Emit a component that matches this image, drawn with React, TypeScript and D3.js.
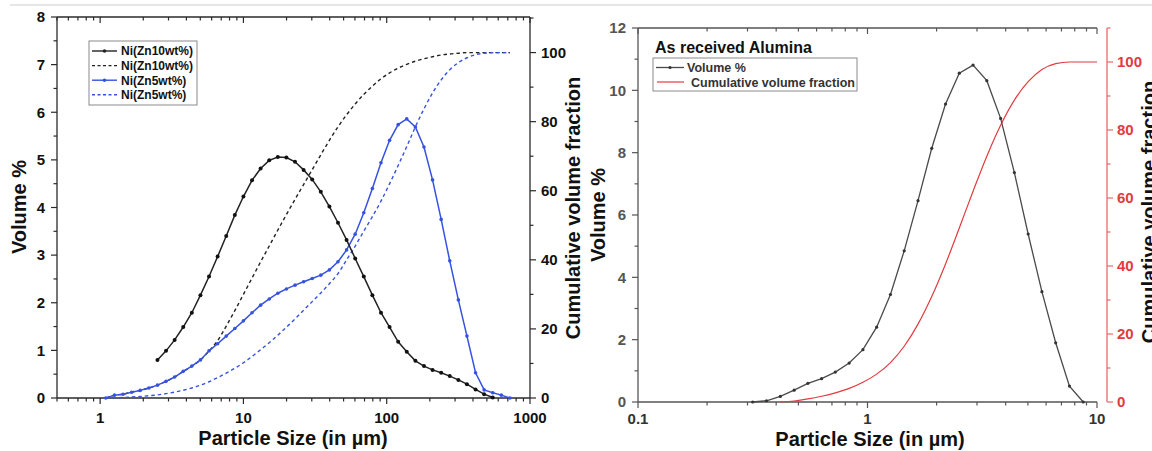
import React from "react";
import * as d3 from "d3";

// ---------- Left chart data (particle size bins in µm) ----------
const sizeBins = [
  1.096, 1.259, 1.445, 1.66, 1.905, 2.188, 2.512, 2.884, 3.311, 3.802, 4.365, 5.012,
  5.754, 6.607, 7.586, 8.71, 10.0, 11.48, 13.18, 15.14, 17.38, 19.95, 22.91, 26.3,
  30.2, 34.67, 39.81, 45.71, 52.48, 60.26, 69.18, 79.43, 91.2, 104.7, 120.2, 138.0,
  158.5, 182.0, 208.9, 239.9, 275.4, 316.2, 363.1, 416.9, 478.6, 549.5, 631.0, 724.4,
];
const ni10Volume: (number | null)[] = [
  null, null, null, null, null, null, 0.8, 0.99, 1.22, 1.49, 1.79, 2.16,
  2.55, 2.97, 3.4, 3.84, 4.23, 4.57, 4.82, 4.99, 5.06, 5.05, 4.96, 4.79,
  4.59, 4.33, 4.02, 3.68, 3.32, 2.93, 2.55, 2.16, 1.79, 1.49, 1.18, 0.97,
  0.78, 0.67, 0.59, 0.53, 0.46, 0.38, 0.29, 0.18, 0.08, 0.01, null, null,
];
const ni10Cumulative = [
  0, 0.8, 1.1, 1.7, 2.2, 2.9, 3.7, 4.8, 6.1, 7.7, 9.2, 11.0,
  13.6, 16.6, 20.8, 25.3, 30.0, 34.7, 39.4, 44.0, 48.6, 53.1, 57.5, 61.8,
  66.1, 70.4, 74.6, 78.5, 82.0, 85.1, 87.9, 90.3, 92.4, 94.1, 95.5, 96.6,
  97.5, 98.2, 98.8, 99.3, 99.6, 99.8, 100, 100, 100, 100, 100, 100,
];
const ni5Volume = [
  0.0, 0.06, 0.08, 0.12, 0.16, 0.21, 0.27, 0.35, 0.44, 0.56, 0.67, 0.8,
  0.99, 1.14, 1.3, 1.46, 1.62, 1.79, 1.95, 2.08, 2.2, 2.29, 2.37, 2.44,
  2.51, 2.58, 2.69, 2.86, 3.11, 3.44, 3.89, 4.4, 4.94, 5.41, 5.74, 5.86,
  5.69, 5.27, 4.58, 3.75, 2.88, 2.06, 1.3, 0.53, 0.17, 0.11, 0.06, 0.0,
];
const ni5Cumulative = [
  0, 0.1, 0.15, 0.3, 0.45, 0.65, 0.9, 1.25, 1.7, 2.25, 2.9, 3.7,
  4.7, 5.9, 7.2, 8.6, 10.2, 12.0, 14.0, 16.0, 18.2, 20.5, 22.9, 25.4,
  27.9, 30.4, 33.1, 36.0, 40.0, 44.0, 48.3, 52.5, 57.0, 62.0, 67.3, 72.8,
  78.5, 83.7, 88.3, 92.1, 95.0, 97.1, 98.5, 99.4, 99.8, 100, 100, 100,
];
const leftLegend = ["Ni(Zn10wt%)", "Ni(Zn10wt%)", "Ni(Zn5wt%)", "Ni(Zn5wt%)"];
const leftYTicks = [0, 1, 2, 3, 4, 5, 6, 7, 8];
const leftCumTicks = [0, 20, 40, 60, 80, 100];

// ---------- Right chart data ----------
const aluminaSizes = [
  0.316, 0.363, 0.417, 0.479, 0.55, 0.631, 0.724, 0.832, 0.955, 1.096, 1.259, 1.445,
  1.66, 1.905, 2.188, 2.512, 2.884, 3.311, 3.802, 4.365, 5.012, 5.754, 6.607, 7.586,
  8.71, 10.0,
];
const aluminaVolume: (number | null)[] = [
  0.0, 0.04, 0.18, 0.38, 0.6, 0.75, 0.96, 1.25, 1.68, 2.4, 3.45, 4.85,
  6.46, 8.14, 9.56, 10.55, 10.81, 10.31, 9.1, 7.36, 5.39, 3.54, 1.9, 0.51,
  0.0, null,
];
const aluminaCumulative: (number | null)[] = [
  null, null, 0, 0.3, 0.9, 1.7, 2.7, 4.0, 5.8, 8.2, 11.6, 16.4,
  22.9, 31.0, 40.6, 51.2, 62.0, 72.3, 81.4, 88.8, 94.2, 97.8, 99.5, 100,
  100, 100,
];
const rightYTicks = [0, 2, 4, 6, 8, 10, 12];
const rightCumTicks = [0, 20, 40, 60, 80, 100];

const FONT = "'Liberation Sans', Arial, Helvetica, sans-serif";
const BLUE = "#3652e0";
const RED = "#e23a3f";
const RED_AXIS = "#e86a6a";

const isDecade = (t: number) => Math.abs(Math.log10(t) - Math.round(Math.log10(t))) < 1e-6;

export default function App() {
  const L = { x0: 57, x1: 530, y0: 17, y1: 398 };
  const lx = d3.scaleLog().domain([0.5, 1000]).range([L.x0, L.x1]);
  const ly = d3.scaleLinear().domain([0, 8]).range([L.y1, L.y0]);
  const lyc = d3.scaleLinear().domain([0, 110.3]).range([L.y1, L.y0]);

  const R = { x0: 638, x1: 1097, y0: 28, y1: 402, ax: 1107 };
  const rx = d3.scaleLog().domain([0.1, 10]).range([R.x0, R.x1]);
  const ry = d3.scaleLinear().domain([0, 12]).range([R.y1, R.y0]);
  const ryc = d3.scaleLinear().domain([0, 110]).range([R.y1, R.y0]);

  type P = [number, number | null];
  const mk = (xs: number[], ys: (number | null)[]): P[] => xs.map((x, i) => [x, ys[i]]);

  const lineL = (ys: P[], yScale: any, curve = d3.curveLinear) =>
    d3
      .line<P>()
      .defined((d) => d[1] != null)
      .x((d) => lx(d[0]))
      .y((d) => yScale(d[1] as number))
      .curve(curve)(ys) || "";
  const lineR = (ys: P[], yScale: any, curve = d3.curveLinear) =>
    d3
      .line<P>()
      .defined((d) => d[1] != null)
      .x((d) => rx(d[0]))
      .y((d) => yScale(d[1] as number))
      .curve(curve)(ys) || "";

  const ni10V = mk(sizeBins, ni10Volume);
  const ni10C = mk(sizeBins, ni10Cumulative);
  const ni5V = mk(sizeBins, ni5Volume);
  const ni5C = mk(sizeBins, ni5Cumulative);
  const alV = mk(aluminaSizes, aluminaVolume);
  const alC = mk(aluminaSizes, aluminaCumulative);

  const lxTicks = lx.ticks();
  const rxTicks = rx.ticks();
  const lMinorY = d3.range(0, 8.01, 0.5);
  const lMinorC = d3.range(0, 111, 10);
  const rMinorY = d3.range(0, 12.01, 1);
  const rMinorC = d3.range(0, 111, 10);

  const axisCol = "#2a2a2a";
  const rAxisCol = "#555";

  return (
    <svg
      width={1152}
      height={451}
      viewBox="0 0 1152 451"
      style={{ position: "absolute", left: 0, top: 0, background: "#fff" }}
      fontFamily={FONT}
    >
      <rect x={0} y={0} width={1152} height={451} fill="#fff" />
      <line x1={10} x2={1152} y1={5} y2={5} stroke="#e6e6e6" strokeWidth={2} />

      {/* ================= LEFT CHART ================= */}
      <g>
        <line x1={L.x0} x2={L.x0} y1={L.y0} y2={L.y1} stroke={axisCol} strokeWidth={1.3} />
        <line x1={L.x1} x2={L.x1} y1={L.y0} y2={L.y1} stroke={axisCol} strokeWidth={1.3} />
        <line x1={L.x0} x2={L.x1} y1={L.y0} y2={L.y0} stroke={axisCol} strokeWidth={1.3} />
        <line x1={L.x0} x2={L.x1} y1={L.y1} y2={L.y1} stroke={axisCol} strokeWidth={1.3} />

        {lxTicks.map((t, i) => {
          const major = isDecade(t);
          const len = major ? 6 : 3.5;
          const x = lx(t);
          return (
            <g key={"lxt" + i}>
              <line x1={x} x2={x} y1={L.y1} y2={L.y1 + len} stroke={axisCol} strokeWidth={1.2} />
              <line x1={x} x2={x} y1={L.y0} y2={L.y0 + len} stroke={axisCol} strokeWidth={1.2} />
              {major && (
                <text x={x} y={423} textAnchor="middle" fontSize={15} fontWeight="bold" fill="#111">
                  {d3.format("d")(t)}
                </text>
              )}
            </g>
          );
        })}

        {lMinorY.map((t, i) => {
          const major = Number.isInteger(t);
          const y = ly(t);
          return (
            <line key={"lyt" + i} x1={L.x0 - (major ? 6 : 3.5)} x2={L.x0} y1={y} y2={y} stroke={axisCol} strokeWidth={1.2} />
          );
        })}
        {leftYTicks.map((t) => (
          <text key={"lyl" + t} x={45} y={ly(t) + 5.3} textAnchor="end" fontSize={15} fontWeight="bold" fill="#111">
            {t}
          </text>
        ))}

        {lMinorC.map((t, i) => {
          const major = t % 20 === 0;
          const y = lyc(t);
          return (
            <line key={"lct" + i} x1={L.x1} x2={L.x1 + (major ? 6 : 3.5)} y1={y} y2={y} stroke={axisCol} strokeWidth={1.2} />
          );
        })}
        {leftCumTicks.map((t) => (
          <text key={"lcl" + t} x={541} y={lyc(t) + 5.3} textAnchor="start" fontSize={15} fontWeight="bold" fill="#111">
            {t}
          </text>
        ))}

        <text transform={`translate(26,207) rotate(-90)`} textAnchor="middle" fontSize={20} fontWeight="bold" fill="#111">
          Volume %
        </text>
        <text transform={`translate(580,208) rotate(-90)`} textAnchor="middle" fontSize={20} fontWeight="bold" fill="#111">
          Cumulative volume fraction
        </text>
        <text x={293} y={445} textAnchor="middle" fontSize={20} fontWeight="bold" fill="#111">
          Particle Size (in µm)
        </text>

        <path d={lineL(ni10C, lyc, d3.curveMonotoneX)} fill="none" stroke="#222" strokeWidth={1.4} strokeDasharray="3.5,3" />
        <path d={lineL(ni5C, lyc, d3.curveMonotoneX)} fill="none" stroke={BLUE} strokeWidth={1.4} strokeDasharray="3.5,3" />
        <path d={lineL(ni5V, ly)} fill="none" stroke={BLUE} strokeWidth={1.5} />
        {ni5V.map((d, i) =>
          d[1] == null ? null : <circle key={"b" + i} cx={lx(d[0])} cy={ly(d[1])} r={1.8} fill={BLUE} />
        )}
        <path d={lineL(ni10V, ly)} fill="none" stroke="#222" strokeWidth={1.5} />
        {ni10V.map((d, i) =>
          d[1] == null ? null : <circle key={"k" + i} cx={lx(d[0])} cy={ly(d[1])} r={2} fill="#111" />
        )}

        <rect x={89} y={41} width={108} height={64} fill="#fff" stroke="#8a8a8a" strokeWidth={1} />
        {leftLegend.map((label, i) => {
          const y = 51 + i * 14.6;
          const color = i < 2 ? "#222" : BLUE;
          const dashed = i % 2 === 1;
          return (
            <g key={"lg" + i}>
              <line x1={92} x2={117} y1={y} y2={y} stroke={color} strokeWidth={1.4} strokeDasharray={dashed ? "3,2.5" : undefined} />
              {!dashed && <circle cx={104.5} cy={y} r={1.8} fill={color} />}
              <text x={121} y={y + 4.4} fontSize={12} fontWeight="bold" fill="#111">
                {label}
              </text>
            </g>
          );
        })}
      </g>

      {/* ================= RIGHT CHART ================= */}
      <g>
        <line x1={R.x0} x2={R.x0} y1={R.y0} y2={R.y1} stroke={rAxisCol} strokeWidth={1.3} />
        <line x1={R.x0} x2={R.x1} y1={R.y0} y2={R.y0} stroke={rAxisCol} strokeWidth={1.3} />
        <line x1={R.x0} x2={R.x1} y1={R.y1} y2={R.y1} stroke={rAxisCol} strokeWidth={1.3} />
        <line x1={R.ax} x2={R.ax} y1={R.y0} y2={R.y1} stroke={RED_AXIS} strokeWidth={1.3} />

        {rxTicks.map((t, i) => {
          const major = isDecade(t);
          const len = major ? 6 : 3.5;
          const x = rx(t);
          return (
            <g key={"rxt" + i}>
              <line x1={x} x2={x} y1={R.y1} y2={R.y1 + len} stroke={rAxisCol} strokeWidth={1.2} />
              <line x1={x} x2={x} y1={R.y0} y2={R.y0 + len} stroke={rAxisCol} strokeWidth={1.2} />
              {major && (
                <text x={x} y={424} textAnchor="middle" fontSize={15} fontWeight="bold" fill="#333">
                  {t < 1 ? d3.format(".1f")(t) : d3.format("d")(t)}
                </text>
              )}
            </g>
          );
        })}

        {rMinorY.map((t, i) => {
          const major = t % 2 === 0;
          const y = ry(t);
          return (
            <line key={"ryt" + i} x1={R.x0 - (major ? 6 : 3.5)} x2={R.x0} y1={y} y2={y} stroke={rAxisCol} strokeWidth={1.2} />
          );
        })}
        {rightYTicks.map((t) => (
          <text key={"ryl" + t} x={626} y={ry(t) + 5.3} textAnchor="end" fontSize={15} fontWeight="bold" fill="#555">
            {t}
          </text>
        ))}

        {rMinorC.map((t, i) => {
          const major = t % 20 === 0;
          const y = ryc(t);
          return (
            <line key={"rct" + i} x1={R.ax} x2={R.ax + (major ? 6 : 3.5)} y1={y} y2={y} stroke={RED_AXIS} strokeWidth={1.2} />
          );
        })}
        {rightCumTicks.map((t) => (
          <text key={"rcl" + t} x={1117} y={ryc(t) + 5.3} textAnchor="start" fontSize={15} fontWeight="bold" fill={RED}>
            {t}
          </text>
        ))}

        <text transform={`translate(605,215) rotate(-90)`} textAnchor="middle" fontSize={20} fontWeight="bold" fill="#111">
          Volume %
        </text>
        <text transform={`translate(1156,212) rotate(-90)`} textAnchor="middle" fontSize={20} fontWeight="bold" fill="#111">
          Cumulative volume fraction
        </text>
        <text x={870} y={446} textAnchor="middle" fontSize={20} fontWeight="bold" fill="#111">
          Particle Size (in µm)
        </text>

        <path d={lineR(alC, ryc, d3.curveMonotoneX)} fill="none" stroke={RED} strokeWidth={1.2} />
        <path d={lineR(alV, ry)} fill="none" stroke="#4a4a4a" strokeWidth={1.3} />
        {alV.map((d, i) =>
          d[1] == null ? null : <circle key={"a" + i} cx={rx(d[0])} cy={ry(d[1])} r={1.6} fill="#333" />
        )}

        <text x={655} y={53} fontSize={16} fontWeight="bold" fill="#111">
          As received Alumina
        </text>
        <rect x={653} y={58} width={204} height={33} fill="#fff" stroke="#8a8a8a" strokeWidth={1} />
        <line x1={656} x2={684} y1={67.5} y2={67.5} stroke="#4a4a4a" strokeWidth={1.3} />
        <circle cx={670} cy={67.5} r={1.6} fill="#333" />
        <text x={687} y={72} fontSize={12.5} fontWeight="bold" fill="#333">
          Volume %
        </text>
        <line x1={657} x2={684} y1={82} y2={82} stroke={RED} strokeWidth={1.2} />
        <text x={691} y={86.5} fontSize={12.5} fontWeight="bold" fill="#333">
          Cumulative volume fraction
        </text>
      </g>
    </svg>
  );
}
